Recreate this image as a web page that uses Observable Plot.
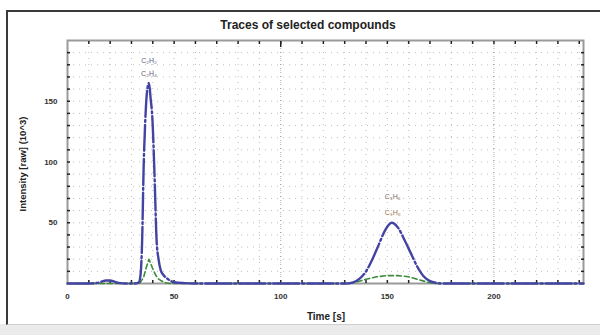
<!DOCTYPE html>
<html>
<head>
<meta charset="utf-8">
<script src="https://cdn.jsdelivr.net/npm/d3@7"></script>
<script src="https://cdn.jsdelivr.net/npm/@observablehq/plot@0.6"></script>
<style>
  html, body { margin: 0; padding: 0; width: 600px; height: 335px; overflow: hidden; background: #fff; font-family: "Liberation Sans", Arial, sans-serif; }
  #bottom { position: absolute; left: 0; top: 324px; width: 600px; height: 11px; background: #ebebeb; }
  #frame { position: absolute; left: 6px; top: 10px; width: 592px; height: 312px; border-left: 2px solid #3a3a3a; border-top: 2px solid #3a3a3a; border-right: 1px solid #cfcfcf; border-bottom: 1px solid #cfcfcf; background: #fff; }
  #title { position: absolute; left: 8px; width: 600px; top: 18px; text-align: center; font-size: 12px; font-weight: bold; color: #222; }
  #chart { position: absolute; left: 0; top: 0; }
  #ylab { position: absolute; left: 22px; top: 164px; transform: translate(-50%, -50%) rotate(-90deg); font-size: 9.5px; font-weight: bold; color: #222; white-space: nowrap; }
  #xlab { position: absolute; left: 326px; top: 311px; transform: translateX(-50%); font-size: 10px; font-weight: bold; color: #222; white-space: nowrap; }
</style>
</head>
<body>
<div id="bottom"></div>
<div id="frame"></div>
<div id="title">Traces of selected compounds</div>
<div id="chart"></div>
<div id="ylab">Intensity [raw] (10^3)</div>
<div id="xlab">Time [s]</div>
<script>
// Blue trace (time s, intensity)
const blueTime = [0, 10, 14, 16, 18, 20, 22, 24, 28, 32, 33.5, 34.3, 35, 35.7, 36.5, 37.3, 38.2, 39, 39.8, 40.8, 41.8, 42.7, 43.7, 45, 46.8, 48.5, 50, 55, 60, 80, 100, 120, 130, 134, 137, 140, 143, 146, 149, 152, 155, 158, 161, 164, 167, 170, 173, 176, 190, 210, 230, 242];
const blueValue = [0, 0, 0.5, 1.5, 2.5, 2.5, 1.5, 0.5, 0, 0, 1, 8, 35, 95, 135, 158, 165, 152, 136, 90, 35, 20, 11, 7, 4, 2, 1, 0.3, 0, 0, 0, 0, 0, 1, 4, 10, 20, 32, 44, 50, 46, 36, 25, 14, 6, 2, 0.5, 0, 0, 0, 0, 0];

// Green trace
const greenTime = [0, 30, 34, 35.7, 36.9, 38.2, 39.8, 41.3, 42.5, 43.7, 45.5, 48, 60, 100, 132, 136, 140, 145, 150, 155, 160, 165, 169, 173, 190, 242];
const greenValue = [0, 0, 0.5, 5, 13, 20, 13, 7, 4, 2.5, 0.8, 0, 0, 0, 0, 1.5, 3.5, 5.5, 6.5, 6.5, 5.5, 3, 1, 0, 0, 0];

// Peak annotations
const labelTime = [38.2, 38.2, 152.5, 152.5];
const labelValue = [183, 173, 71, 58];
const labelText = ["C₂H₂", "C₂H₄", "C₃H₆", "C₃H₈"];
const labelColor = ["#5d5d85", "#6a5a78", "#7a6a68", "#9a7a55"];

// Axis ticks
const xTicks = [0, 50, 100, 150, 200];
const yTicks = [50, 100, 150];
const xMinor = d3.range(10, 241, 10);
const yMinor = d3.range(10, 200, 10);

const blue = blueTime.map((t, i) => ({t, v: blueValue[i]}));
const green = greenTime.map((t, i) => ({t, v: greenValue[i]}));
const labels = labelTime.map((t, i) => ({t, v: labelValue[i], s: labelText[i], c: labelColor[i]}));

const noText = () => "";

const chart = Plot.plot({
  width: 600,
  height: 335,
  marginLeft: 67,
  marginRight: 17,
  marginTop: 40,
  marginBottom: 52,
  style: { background: "transparent", fontFamily: "Liberation Sans, Arial, sans-serif", fontSize: "8px", color: "#333" },
  x: { domain: [0, 242], label: null },
  y: { domain: [0, 200], label: null },
  marks: [
    Plot.gridX(xMinor, { stroke: "#8a8a8a", strokeOpacity: 0.55, strokeDasharray: "1,5" }),
    Plot.gridY(yMinor, { stroke: "#8a8a8a", strokeOpacity: 0.55, strokeDasharray: "1,5" }),
    Plot.gridX([100, 200], { stroke: "#777", strokeOpacity: 0.6, strokeDasharray: "1,3" }),
    Plot.frame({ stroke: "#9a9a9a", strokeWidth: 2 }),
    Plot.axisX(xTicks, { anchor: "bottom", tickSize: 0, tickPadding: 10, fill: "#333", fontWeight: "bold" }),
    Plot.axisY(yTicks, { anchor: "left", tickSize: 0, tickPadding: 10, fill: "#333", fontWeight: "bold" }),
    Plot.axisX(xMinor, { anchor: "bottom", tickSize: -3, tickFormat: noText, stroke: "#222", strokeWidth: 1.5 }),
    Plot.axisX(xMinor, { anchor: "top", tickSize: -3, tickFormat: noText, stroke: "#222", strokeWidth: 1.5 }),
    Plot.axisY(yMinor, { anchor: "left", tickSize: -3, tickFormat: noText, stroke: "#222", strokeWidth: 1.5 }),
    Plot.axisY(yMinor, { anchor: "right", tickSize: -3, tickFormat: noText, stroke: "#222", strokeWidth: 1.5 }),
    Plot.axisX([100], { anchor: "top", tickSize: -6, tickFormat: noText, stroke: "#222", strokeWidth: 1.5 }),
    Plot.line(green, { x: "t", y: "v", stroke: "#3d8c3d", strokeWidth: 1.6, strokeDasharray: "5,3" }),
    Plot.line(blue, { x: "t", y: "v", stroke: "#4343a3", strokeWidth: 2.4, strokeDasharray: "26,3,2,3", curve: "monotone-x" }),
    Plot.text(labels, { x: "t", y: "v", text: "s", fill: "c", fontSize: 7 })
  ]
});
document.getElementById("chart").appendChild(chart);
</script>
</body>
</html>
